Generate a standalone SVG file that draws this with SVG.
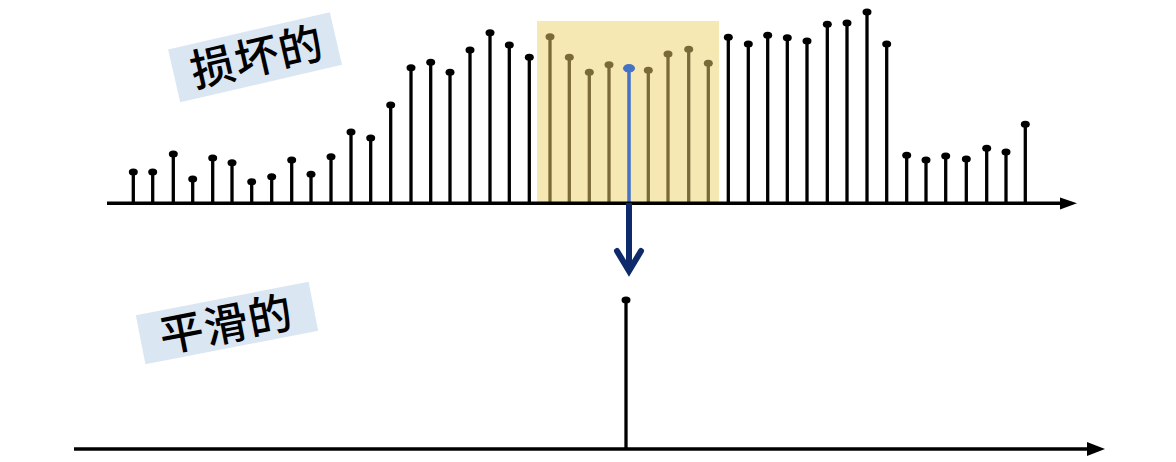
<svg xmlns="http://www.w3.org/2000/svg" width="1176" height="462" viewBox="0 0 1176 462">
<defs>
<style>
.stem{stroke:#000;stroke-width:3.3}
.dot{fill:#000}
.ostem{stroke:#7a6a3a;stroke-width:3.3}
.odot{fill:#7a6a3a}
.axis{stroke:#000;stroke-width:3.5;fill:none}
.lbl{font-family:"Noto Sans CJK SC","Noto Sans",sans-serif;font-weight:500;font-size:44px;fill:#000;letter-spacing:1px}
.tag{fill:#dbe6f3}
</style>
</defs>
<rect width="1176" height="462" fill="#fff"/>

<g id="label-corrupted" transform="rotate(-13 256 57)">
<rect class="tag" x="172" y="30" width="166" height="54"/>
<text class="lbl" x="257" y="73" text-anchor="middle">损坏的</text>
</g>
<g id="label-smooth" transform="rotate(-11 227 323)">
<rect class="tag" x="139" y="298" width="176" height="50"/>
<text class="lbl" x="226" y="340" text-anchor="middle">平滑的</text>
</g>

<g id="highlight">
<rect x="537" y="21" width="182" height="182" fill="#f6e8b2"/>
</g>

<g id="signal-corrupted">
<g class="stem">
<line x1="133.3" y1="203" x2="133.3" y2="172"/>
<line x1="152.7" y1="203" x2="152.7" y2="172"/>
<line x1="173.3" y1="203" x2="173.3" y2="154"/>
<line x1="192.7" y1="203" x2="192.7" y2="179"/>
<line x1="212.7" y1="203" x2="212.7" y2="158"/>
<line x1="232" y1="203" x2="232" y2="162.7"/>
<line x1="251.7" y1="203" x2="251.7" y2="181.7"/>
<line x1="271.7" y1="203" x2="271.7" y2="176.7"/>
<line x1="291.7" y1="203" x2="291.7" y2="160"/>
<line x1="311" y1="203" x2="311" y2="174.3"/>
<line x1="331" y1="203" x2="331" y2="156.7"/>
<line x1="351" y1="203" x2="351" y2="132"/>
<line x1="370.7" y1="203" x2="370.7" y2="138"/>
<line x1="390.7" y1="203" x2="390.7" y2="105"/>
<line x1="411" y1="203" x2="411" y2="67.7"/>
<line x1="430.7" y1="203" x2="430.7" y2="62.3"/>
<line x1="450" y1="203" x2="450" y2="72.3"/>
<line x1="470" y1="203" x2="470" y2="50"/>
<line x1="490" y1="203" x2="490" y2="32.7"/>
<line x1="509.3" y1="203" x2="509.3" y2="45"/>
<line x1="529.3" y1="203" x2="529.3" y2="57.3"/>
<line x1="728.3" y1="203" x2="728.3" y2="37.3"/>
<line x1="748.3" y1="203" x2="748.3" y2="44"/>
<line x1="767.7" y1="203" x2="767.7" y2="35.3"/>
<line x1="787.3" y1="203" x2="787.3" y2="37.7"/>
<line x1="807" y1="203" x2="807" y2="41"/>
<line x1="827.3" y1="203" x2="827.3" y2="24.3"/>
<line x1="847" y1="203" x2="847" y2="23"/>
<line x1="867" y1="203" x2="867" y2="12"/>
<line x1="886.7" y1="203" x2="886.7" y2="44"/>
<line x1="906.7" y1="203" x2="906.7" y2="155.3"/>
<line x1="926" y1="203" x2="926" y2="160"/>
<line x1="945.7" y1="203" x2="945.7" y2="156"/>
<line x1="966.3" y1="203" x2="966.3" y2="159"/>
<line x1="986.7" y1="203" x2="986.7" y2="148.3"/>
<line x1="1006" y1="203" x2="1006" y2="152"/>
<line x1="1025.3" y1="203" x2="1025.3" y2="124.3"/>
</g>
<g class="dot">
<ellipse cx="133.3" cy="172" rx="4.5" ry="3.5"/>
<ellipse cx="152.7" cy="172" rx="4.5" ry="3.5"/>
<ellipse cx="173.3" cy="154" rx="4.5" ry="3.5"/>
<ellipse cx="192.7" cy="179" rx="4.5" ry="3.5"/>
<ellipse cx="212.7" cy="158" rx="4.5" ry="3.5"/>
<ellipse cx="232" cy="162.7" rx="4.5" ry="3.5"/>
<ellipse cx="251.7" cy="181.7" rx="4.5" ry="3.5"/>
<ellipse cx="271.7" cy="176.7" rx="4.5" ry="3.5"/>
<ellipse cx="291.7" cy="160" rx="4.5" ry="3.5"/>
<ellipse cx="311" cy="174.3" rx="4.5" ry="3.5"/>
<ellipse cx="331" cy="156.7" rx="4.5" ry="3.5"/>
<ellipse cx="351" cy="132" rx="4.5" ry="3.5"/>
<ellipse cx="370.7" cy="138" rx="4.5" ry="3.5"/>
<ellipse cx="390.7" cy="105" rx="4.5" ry="3.5"/>
<ellipse cx="411" cy="67.7" rx="4.5" ry="3.5"/>
<ellipse cx="430.7" cy="62.3" rx="4.5" ry="3.5"/>
<ellipse cx="450" cy="72.3" rx="4.5" ry="3.5"/>
<ellipse cx="470" cy="50" rx="4.5" ry="3.5"/>
<ellipse cx="490" cy="32.7" rx="4.5" ry="3.5"/>
<ellipse cx="509.3" cy="45" rx="4.5" ry="3.5"/>
<ellipse cx="529.3" cy="57.3" rx="4.5" ry="3.5"/>
<ellipse cx="728.3" cy="37.3" rx="4.5" ry="3.5"/>
<ellipse cx="748.3" cy="44" rx="4.5" ry="3.5"/>
<ellipse cx="767.7" cy="35.3" rx="4.5" ry="3.5"/>
<ellipse cx="787.3" cy="37.7" rx="4.5" ry="3.5"/>
<ellipse cx="807" cy="41" rx="4.5" ry="3.5"/>
<ellipse cx="827.3" cy="24.3" rx="4.5" ry="3.5"/>
<ellipse cx="847" cy="23" rx="4.5" ry="3.5"/>
<ellipse cx="867" cy="12" rx="4.5" ry="3.5"/>
<ellipse cx="886.7" cy="44" rx="4.5" ry="3.5"/>
<ellipse cx="906.7" cy="155.3" rx="4.5" ry="3.5"/>
<ellipse cx="926" cy="160" rx="4.5" ry="3.5"/>
<ellipse cx="945.7" cy="156" rx="4.5" ry="3.5"/>
<ellipse cx="966.3" cy="159" rx="4.5" ry="3.5"/>
<ellipse cx="986.7" cy="148.3" rx="4.5" ry="3.5"/>
<ellipse cx="1006" cy="152" rx="4.5" ry="3.5"/>
<ellipse cx="1025.3" cy="124.3" rx="4.5" ry="3.5"/>
</g>
<g class="ostem">
<line x1="550" y1="203" x2="550" y2="36.7"/>
<line x1="569.3" y1="203" x2="569.3" y2="57.3"/>
<line x1="589.3" y1="203" x2="589.3" y2="72.3"/>
<line x1="609" y1="203" x2="609" y2="64.7"/>
<line x1="648.3" y1="203" x2="648.3" y2="70.3"/>
<line x1="668" y1="203" x2="668" y2="54"/>
<line x1="688.7" y1="203" x2="688.7" y2="49.3"/>
<line x1="708.3" y1="203" x2="708.3" y2="63.3"/>
</g>
<g class="odot">
<ellipse cx="550" cy="36.7" rx="4.5" ry="3.5"/>
<ellipse cx="569.3" cy="57.3" rx="4.5" ry="3.5"/>
<ellipse cx="589.3" cy="72.3" rx="4.5" ry="3.5"/>
<ellipse cx="609" cy="64.7" rx="4.5" ry="3.5"/>
<ellipse cx="648.3" cy="70.3" rx="4.5" ry="3.5"/>
<ellipse cx="668" cy="54" rx="4.5" ry="3.5"/>
<ellipse cx="688.7" cy="49.3" rx="4.5" ry="3.5"/>
<ellipse cx="708.3" cy="63.3" rx="4.5" ry="3.5"/>
</g>
<line x1="629" y1="203" x2="629" y2="68.3" stroke="#4472c4" stroke-width="3.5"/>
<ellipse cx="629" cy="68.3" rx="6" ry="4.3" fill="#4472c4"/>
</g>

<g id="axis-top">
<line class="axis" x1="107" y1="203.3" x2="1062" y2="203.3"/>
<polygon points="1060,197.5 1077,203.3 1060,209.5" fill="#000"/>
</g>

<g id="signal-smooth">
<line class="stem" x1="626" y1="449" x2="626" y2="300" stroke-width="3.5"/>
<ellipse class="dot" cx="626" cy="300" rx="4.5" ry="3.5"/>
</g>

<g id="axis-bottom">
<line class="axis" x1="74" y1="449" x2="1090" y2="449" stroke-width="4"/>
<polygon points="1087,442 1105,449 1087,456" fill="#000"/>
</g>

<g id="connectors">
<line x1="629" y1="203" x2="629" y2="270" stroke="#0f2a6b" stroke-width="6"/>
<polyline points="617,251 629,271 641,251" fill="none" stroke="#0f2a6b" stroke-width="6" stroke-linecap="round" stroke-linejoin="miter"/>
</g>
</svg>
